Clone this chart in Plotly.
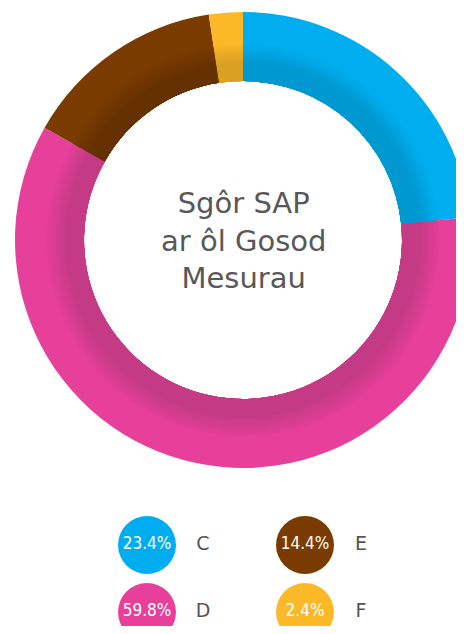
import plotly.graph_objects as go

# ---- data ----
categories = ["C", "D", "E", "F"]
values = [23.4, 59.8, 14.4, 2.4]
pct_labels = ["23.4%", "59.8%", "14.4%", "2.4%"]
center_title = "Sgôr SAP<br>ar ôl Gosod<br>Mesurau"

# ---- style ----
base_colors = ["#00AEEF", "#E6409A", "#7A3B00", "#FBB827"]
dark_colors = ["#0098D0", "#C53A85", "#663100", "#DAA024"]

# the page adds an 8px body margin, so figure coords are page coords - 8
W, H = 472, 618
CX, CY = 235, 232
R_OUT, R_IN = 228, 159
grad_radii = [196, 193, 190, 187, 184, 181, 178]


def hex2rgb(h):
    h = h.lstrip("#")
    return tuple(int(h[i:i + 2], 16) for i in (0, 2, 4))


def mix(c1, c2, t):
    a, b = hex2rgb(c1), hex2rgb(c2)
    return "rgb(%d,%d,%d)" % tuple(round(a[i] + (b[i] - a[i]) * t) for i in range(3))


def ring(r, colors):
    return go.Pie(
        values=values,
        labels=categories,
        sort=False,
        direction="clockwise",
        rotation=0,
        hole=R_IN / r,
        marker=dict(colors=colors, line=dict(width=0)),
        textinfo="none",
        hoverinfo="skip",
        showlegend=False,
        domain=dict(x=[max(0, (CX - r) / W), min(1, (CX + r) / W)],
                    y=[1 - (CY + r) / H, 1 - (CY - r) / H]),
    )


fig = go.Figure()
fig.add_trace(ring(R_OUT, base_colors))
n = len(grad_radii)
for k, r in enumerate(grad_radii):
    t = (k + 1) / n
    fig.add_trace(ring(r, [mix(b, d, t) for b, d in zip(base_colors, dark_colors)]))

# legend drawn as a scatter of circles
col_x = [139, 297]
row_y = [537, 604]
lx = [col_x[i // 2] for i in range(len(categories))]
ly = [row_y[i % 2] for i in range(len(categories))]
fig.add_trace(go.Scatter(
    x=lx, y=ly, mode="markers+text",
    marker=dict(size=58, color=base_colors, line=dict(width=0)),
    text=pct_labels, textposition="middle center",
    textfont=dict(family="Liberation Sans Narrow, DejaVu Sans Condensed, sans-serif", size=17, color="white"),
    hoverinfo="skip", showlegend=False, cliponaxis=False,
))
fig.add_trace(go.Scatter(
    x=[x + 56 for x in lx], y=ly, mode="text",
    text=categories, textposition="middle center",
    textfont=dict(family="DejaVu Sans, sans-serif", size=19, color="#555555"),
    hoverinfo="skip", showlegend=False,
))

fig.add_annotation(
    x=CX / W, y=1 - CY / H, xref="paper", yref="paper",
    text=center_title, showarrow=False,
    font=dict(family="DejaVu Sans, sans-serif", size=29, color="#585858"),
    align="center", xanchor="center", yanchor="middle",
)

fig.update_layout(
    width=W, height=H,
    margin=dict(l=0, r=0, t=0, b=0),
    paper_bgcolor="white", plot_bgcolor="white",
    xaxis=dict(range=[0, W], visible=False, fixedrange=True),
    yaxis=dict(range=[H, 0], visible=False, fixedrange=True),
)

fig.write_html("out.html")
